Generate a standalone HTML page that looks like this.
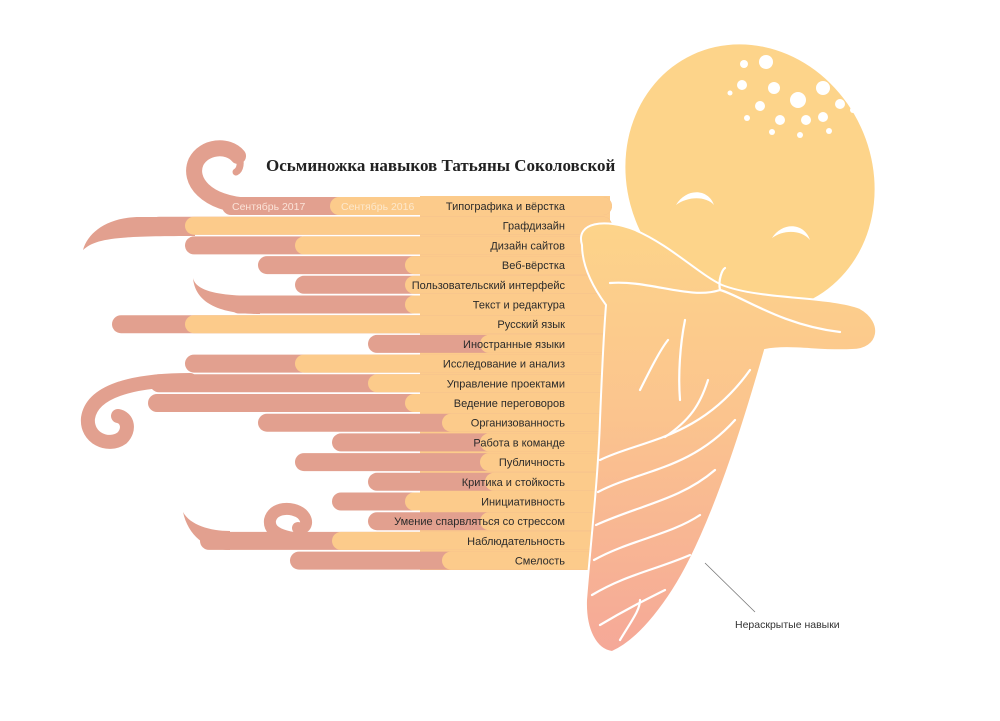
<!DOCTYPE html>
<html><head><meta charset="utf-8"><style>
body{margin:0;background:#fff;}
svg{display:block}
text{font-family:"Liberation Sans","DejaVu Sans",sans-serif}
</style></head><body>
<svg width="1000" height="721" viewBox="0 0 1000 721" xmlns="http://www.w3.org/2000/svg">
<defs>
<linearGradient id="bg" x1="0" y1="0" x2="0" y2="1">
<stop offset="0" stop-color="#fdd48a"/><stop offset="0.45" stop-color="#fbc48e"/><stop offset="1" stop-color="#f5a898"/>
</linearGradient>
</defs>
<rect width="1000" height="721" fill="#fff"/>
<rect x="420" y="196" width="190" height="374" fill="#fccb8b"/>
<g fill="none" stroke="#e2a08f" stroke-linecap="round">
<path d="M250,206 C205,204 188,180 196,162 C204,146 228,144 238,156" stroke-width="16"/>
<path d="M238,156 C242,162 240,170 236,172" stroke-width="7"/>
<path d="M190,380 C130,380 92,392 88,418 C86,438 108,448 122,438 C130,430 128,418 118,416" stroke-width="14"/>
<path d="M340,542 C290,540 268,536 270,520 C273,507 292,506 302,514 C310,522 305,530 298,528" stroke-width="12"/>
</g>
<g fill="#e2a08f">
<path d="M195,217 L140,217 C108,217 88,232 83,250 C96,238 118,236 195,236 Z"/>
<path d="M260,296 C222,296 196,292 193,278 C195,300 214,314 260,314 Z"/>
<path d="M230,531 C210,531 190,525 183,512 C188,535 205,550 230,550 Z"/>
</g>
<g>
<rect x="222" y="197" width="390" height="18" rx="9" fill="#e2a08f"/><rect x="330" y="197" width="282" height="18" rx="9" fill="#fccb8b"/>
<rect x="150" y="216.7" width="462" height="18" rx="9" fill="#e2a08f"/><rect x="185" y="216.7" width="427" height="18" rx="9" fill="#fccb8b"/>
<rect x="185" y="236.4" width="427" height="18" rx="9" fill="#e2a08f"/><rect x="295" y="236.4" width="317" height="18" rx="9" fill="#fccb8b"/>
<rect x="258" y="256.1" width="354" height="18" rx="9" fill="#e2a08f"/><rect x="405" y="256.1" width="207" height="18" rx="9" fill="#fccb8b"/>
<rect x="295" y="275.8" width="317" height="18" rx="9" fill="#e2a08f"/><rect x="405" y="275.8" width="207" height="18" rx="9" fill="#fccb8b"/>
<rect x="230" y="295.5" width="382" height="18" rx="9" fill="#e2a08f"/><rect x="405" y="295.5" width="207" height="18" rx="9" fill="#fccb8b"/>
<rect x="112" y="315.2" width="500" height="18" rx="9" fill="#e2a08f"/><rect x="185" y="315.2" width="427" height="18" rx="9" fill="#fccb8b"/>
<rect x="368" y="334.9" width="244" height="18" rx="9" fill="#e2a08f"/><rect x="480" y="334.9" width="132" height="18" rx="9" fill="#fccb8b"/>
<rect x="185" y="354.6" width="427" height="18" rx="9" fill="#e2a08f"/><rect x="295" y="354.6" width="317" height="18" rx="9" fill="#fccb8b"/>
<rect x="150" y="374.3" width="462" height="18" rx="9" fill="#e2a08f"/><rect x="368" y="374.3" width="244" height="18" rx="9" fill="#fccb8b"/>
<rect x="148" y="394" width="464" height="18" rx="9" fill="#e2a08f"/><rect x="405" y="394" width="207" height="18" rx="9" fill="#fccb8b"/>
<rect x="258" y="413.7" width="354" height="18" rx="9" fill="#e2a08f"/><rect x="442" y="413.7" width="170" height="18" rx="9" fill="#fccb8b"/>
<rect x="332" y="433.4" width="280" height="18" rx="9" fill="#e2a08f"/><rect x="480" y="433.4" width="132" height="18" rx="9" fill="#fccb8b"/>
<rect x="295" y="453.1" width="317" height="18" rx="9" fill="#e2a08f"/><rect x="480" y="453.1" width="132" height="18" rx="9" fill="#fccb8b"/>
<rect x="368" y="472.8" width="244" height="18" rx="9" fill="#e2a08f"/><rect x="485" y="472.8" width="127" height="18" rx="9" fill="#fccb8b"/>
<rect x="332" y="492.5" width="280" height="18" rx="9" fill="#e2a08f"/><rect x="405" y="492.5" width="207" height="18" rx="9" fill="#fccb8b"/>
<rect x="368" y="512.2" width="244" height="18" rx="9" fill="#e2a08f"/><rect x="480" y="512.2" width="132" height="18" rx="9" fill="#fccb8b"/>
<rect x="200" y="531.9" width="412" height="18" rx="9" fill="#e2a08f"/><rect x="332" y="531.9" width="280" height="18" rx="9" fill="#fccb8b"/>
<rect x="290" y="551.6" width="322" height="18" rx="9" fill="#e2a08f"/><rect x="442" y="551.6" width="170" height="18" rx="9" fill="#fccb8b"/>
</g>
<text x="266" y="171" font-weight="bold" font-size="17" fill="#222" style="font-family:'Liberation Serif',serif">Осьминожка навыков Татьяны Соколовской</text>
<text x="232" y="210" font-size="10.5" fill="#fbe3d8">Сентябрь 2017</text>
<text x="341" y="210" font-size="10.5" fill="#fde8cc">Сентябрь 2016</text>
<g font-size="11" fill="#2a2a2a" text-anchor="end">
<text x="565" y="210">Типографика и вёрстка</text>
<text x="565" y="229.7">Графдизайн</text>
<text x="565" y="249.4">Дизайн сайтов</text>
<text x="565" y="269.1">Веб-вёрстка</text>
<text x="565" y="288.8">Пользовательский интерфейс</text>
<text x="565" y="308.5">Текст и редактура</text>
<text x="565" y="328.2">Русский язык</text>
<text x="565" y="347.9">Иностранные языки</text>
<text x="565" y="367.6">Исследование и анализ</text>
<text x="565" y="387.3">Управление проектами</text>
<text x="565" y="407">Ведение переговоров</text>
<text x="565" y="426.7">Организованность</text>
<text x="565" y="446.4">Работа в команде</text>
<text x="565" y="466.1">Публичность</text>
<text x="565" y="485.8">Критика и стойкость</text>
<text x="565" y="505.5">Инициативность</text>
<text x="565" y="525.2">Умение спарвляться со стрессом</text>
<text x="565" y="544.9">Наблюдательность</text>
<text x="565" y="564.6">Смелость</text>
</g>
<ellipse cx="750" cy="178" rx="122" ry="136" transform="rotate(-25 750 178)" fill="#fdd48a"/>
<path d="M582,245 C575,222 605,218 635,230 C670,245 700,275 722,285 C760,300 830,296 860,308 C885,322 880,350 852,350 C820,352 790,345 765,350 C745,420 720,500 690,560 C670,600 640,640 612,652 C596,650 585,630 586,600 C590,550 598,480 600,420 C602,370 604,330 606,305 C595,290 582,268 582,245 Z" fill="url(#bg)" stroke="#fff" stroke-width="2"/>
<g fill="none" stroke="#fff" stroke-width="2.2" stroke-linecap="round">
<path d="M610,283 C650,280 690,300 720,290 C740,295 780,325 840,332"/>
<path d="M720,290 C718,280 722,270 725,268"/>
<path d="M640,390 C650,370 660,350 668,340"/>
<path d="M665,437 C690,420 700,405 708,380"/>
<path d="M600,460 C640,440 700,440 750,370"/>
<path d="M598,492 C640,470 690,470 735,420"/>
<path d="M596,525 C640,505 680,500 715,470"/>
<path d="M594,560 C630,540 670,535 700,515"/>
<path d="M592,595 C625,575 655,570 690,555"/>
<path d="M600,625 C625,610 645,600 665,590"/>
<path d="M620,640 C632,620 640,610 640,600"/>
<path d="M685,320 C680,345 678,375 680,400"/>
</g>
<path d="M676,205 C686,188 708,188 714,205 C706,196 688,196 676,205 Z" fill="#fff"/>
<path d="M772,238 C782,222 804,222 810,240 C802,230 784,229 772,238 Z" fill="#fff"/>
<g fill="#fff">
<circle cx="744" cy="64" r="4"/><circle cx="766" cy="62" r="7"/><circle cx="742" cy="85" r="5"/><circle cx="774" cy="88" r="6"/><circle cx="798" cy="100" r="8"/><circle cx="823" cy="88" r="7"/><circle cx="730" cy="93" r="2.5"/>
<circle cx="760" cy="106" r="5"/><circle cx="780" cy="120" r="5"/><circle cx="806" cy="120" r="5"/><circle cx="840" cy="104" r="5"/><circle cx="823" cy="117" r="5"/><circle cx="747" cy="118" r="3"/><circle cx="853" cy="110" r="3"/><circle cx="772" cy="132" r="3"/><circle cx="800" cy="135" r="3"/><circle cx="829" cy="131" r="3"/>
</g>
<line x1="705" y1="563" x2="755" y2="612" stroke="#777" stroke-width="0.8"/>
<text x="735" y="628" font-size="10.5" fill="#333">Нераскрытые навыки</text>
</svg>
</body></html>
